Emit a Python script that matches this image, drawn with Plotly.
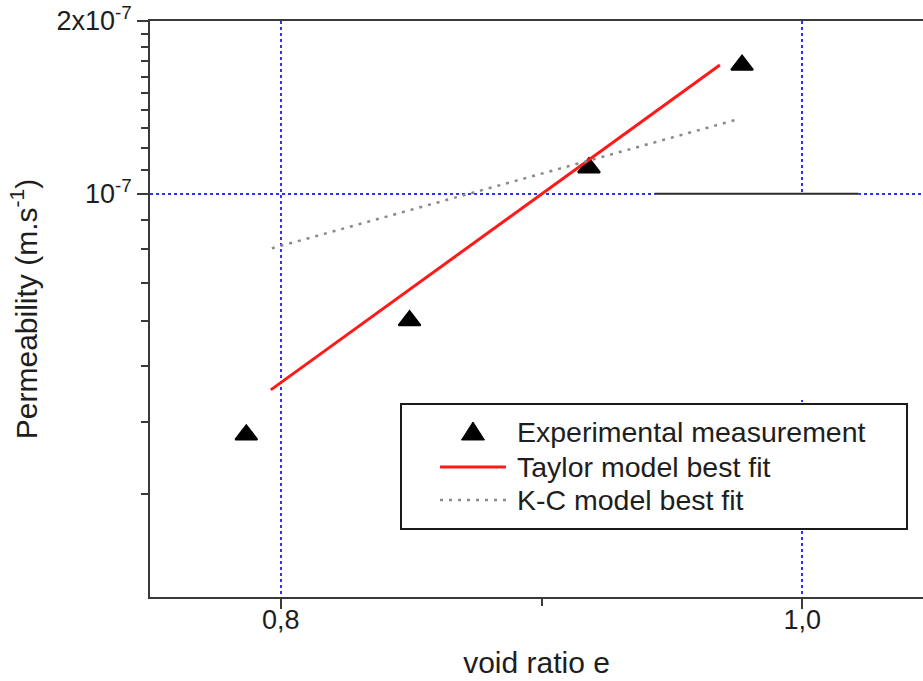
import plotly.graph_objects as go

# ---- data ----
void_ratio_exp = [0.7868, 0.8494, 0.9182, 0.9769]
perm_exp = [3.80e-8, 6.01e-8, 1.110e-7, 1.676e-7]

taylor_e = [0.7962, 0.9684]
taylor_k = [4.55e-8, 1.676e-7]

kc_e = [0.7966, 0.9753]
kc_k = [8.03e-8, 1.348e-7]

series_names = ["Experimental measurement", "Taylor model best fit", "K-C model best fit"]

x_major = [0.8, 1.0]
x_labels = ["0,8", "1,0"]
x_minor = [0.9]

y_major = [1e-7, 2e-7]
y_labels = ["10<sup>-7</sup>", "2x10<sup>-7</sup>"]
y_minor = [3e-8, 4e-8, 5e-8, 6e-8, 7e-8, 8e-8, 9e-8,
           1.1e-7, 1.2e-7, 1.3e-7, 1.4e-7, 1.5e-7, 1.6e-7, 1.7e-7, 1.8e-7, 1.9e-7]

# leftover blank patch visible in the source image
patch_e = [0.9435, 1.0215]
patch_k = [4.37e-8, 1e-7]

FONT = "Liberation Sans, Arial, sans-serif"
TXT = "#1e1e1e"
AX = "#3a3a3a"
GRID = "#3030ff"
RED = "#ff1a1a"
GREY = "#8a8a8a"

fig = go.Figure()
fig.add_trace(go.Scatter(
    x=void_ratio_exp, y=perm_exp, mode="markers", name=series_names[0],
    marker=dict(symbol="triangle-up", size=19, color="black",
                line=dict(color="black", width=2)),
))
fig.add_trace(go.Scatter(
    x=taylor_e, y=taylor_k, mode="lines", name=series_names[1],
    line=dict(color=RED, width=3),
))
fig.add_trace(go.Scatter(
    x=kc_e, y=kc_k, mode="lines", name=series_names[2],
    line=dict(color=GREY, width=2.5, dash="3px,6px"),
))

fig.add_shape(type="rect", xref="x", yref="y",
              x0=patch_e[0], x1=patch_e[1], y0=patch_k[0], y1=patch_k[1],
              fillcolor="white", line=dict(width=0), layer="above")
fig.add_shape(type="line", xref="x", yref="y",
              x0=patch_e[0], x1=patch_e[1], y0=patch_k[1], y1=patch_k[1],
              line=dict(color="#2a2a2a", width=2), layer="above")

# ---- legend box drawn by hand (paper coordinates) ----
LEG_BOX = dict(x0=0.3247, x1=0.9793, y0=0.1181, y1=0.3351)
LEG_ROWS = [0.2865, 0.2257, 0.1684]
LEG_SYM = [0.3752, 0.4605]
LEG_TXT_X = 0.4722
fig.add_shape(type="rect", xref="paper", yref="paper", **LEG_BOX,
              fillcolor="white", line=dict(color="#1a1a1a", width=2), layer="above")
fig.add_shape(type="path", xref="paper", yref="paper",
              xsizemode="pixel", ysizemode="pixel",
              xanchor=(LEG_SYM[0] + LEG_SYM[1]) / 2, yanchor=LEG_ROWS[0],
              path="M-11.5,-8 L11.5,-8 L0,10 Z",
              fillcolor="black", line=dict(color="black", width=1), layer="above")
fig.add_shape(type="line", xref="paper", yref="paper",
              x0=LEG_SYM[0], x1=LEG_SYM[1], y0=LEG_ROWS[1], y1=LEG_ROWS[1],
              line=dict(color=RED, width=3), layer="above")
fig.add_shape(type="line", xref="paper", yref="paper",
              x0=LEG_SYM[0], x1=LEG_SYM[1], y0=LEG_ROWS[2], y1=LEG_ROWS[2],
              line=dict(color=GREY, width=2.5, dash="3px,6px"), layer="above")
for name, ry in zip(series_names, LEG_ROWS):
    fig.add_annotation(xref="paper", yref="paper", x=LEG_TXT_X, y=ry,
                       text=name, showarrow=False, xanchor="left", yanchor="middle",
                       font=dict(size=28.5, family=FONT, color=TXT))

fig.update_layout(
    width=923, height=681,
    margin=dict(l=150, r=0, t=21, b=84),
    paper_bgcolor="white", plot_bgcolor="white",
    font=dict(family=FONT, color=TXT, size=26),
    showlegend=False,
)

fig.update_xaxes(
    range=[0.74988, 1.04628],
    tickmode="array", tickvals=x_major, ticktext=x_labels,
    ticks="outside", ticklen=10, tickwidth=1.5, tickcolor=AX,
    tickfont=dict(size=27), ticklabelstandoff=-12,
    showline=True, linecolor=AX, linewidth=1.5, mirror=True,
    showgrid=True, gridcolor=GRID, gridwidth=1.5, griddash="dot",
    zeroline=False,
    minor=dict(tickmode="array", tickvals=x_minor, ticks="outside",
               ticklen=7, tickwidth=1.5, tickcolor=AX, showgrid=False),
    title=dict(text="void ratio e", font=dict(size=30), standoff=18),
)

fig.update_yaxes(
    type="log", range=[-7.703, -6.69897],
    tickmode="array", tickvals=y_major, ticktext=y_labels,
    ticks="outside", ticklen=11, tickwidth=1.5, tickcolor=AX,
    tickfont=dict(size=27),
    showline=True, linecolor=AX, linewidth=1.5, mirror=False,
    showgrid=True, gridcolor=GRID, gridwidth=1.5, griddash="dot",
    zeroline=False,
    minor=dict(tickmode="array", tickvals=y_minor, ticks="outside",
               ticklen=7, tickwidth=1.5, tickcolor=AX, showgrid=False),
    title=dict(text="Permeability (m.s<sup>-1</sup>)", font=dict(size=30), standoff=10),
)

fig.write_html("out.html")
